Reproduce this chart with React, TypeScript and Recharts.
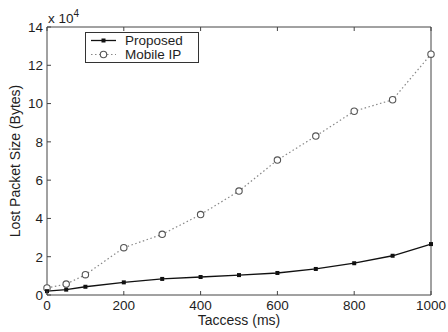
import { LineChart, Line, XAxis, YAxis, Legend, Label } from "recharts";

const taccess = [0, 50, 100, 200, 300, 400, 500, 600, 700, 800, 900, 1000];
const proposed = [2000, 2800, 4300, 6600, 8400, 9400, 10400, 11500, 13600, 16600, 20500, 26600];
const mobileIp = [3700, 5700, 10600, 24700, 31700, 42000, 54300, 70500, 83000, 96000, 102000, 125800];
const xTicks = [0, 200, 400, 600, 800, 1000];
const yTicks = [0, 20000, 40000, 60000, 80000, 100000, 120000, 140000];

const data = taccess.map((t, i) => ({ t, proposed: proposed[i], mobile: mobileIp[i] }));

const FONT = "'Liberation Sans', Arial, sans-serif";
const TEXT = "#1e1e1e";
const AXIS = "#444";
const TICK_LEN = 4;

function BottomTick({ x, y, payload }: any) {
  return (
    <g>
      <line x1={x} x2={x} y1={y - 5} y2={y - 5 - TICK_LEN} stroke={AXIS} />
      <text x={x} y={y} dy="0.72em" textAnchor="middle" fontSize={13.5} fill={TEXT} fontFamily={FONT}>
        {payload.value}
      </text>
    </g>
  );
}

function TopTick({ x, y }: any) {
  return <line x1={x} x2={x} y1={y} y2={y + TICK_LEN} stroke={AXIS} />;
}

function LeftTick({ x, y, payload }: any) {
  return (
    <g>
      <line x1={x + 4} x2={x + 4 + TICK_LEN} y1={y} y2={y} stroke={AXIS} />
      <text x={x} y={y} dy="0.36em" textAnchor="end" fontSize={13.5} fill={TEXT} fontFamily={FONT}>
        {payload.value / 10000}
      </text>
    </g>
  );
}

function RightTick({ x, y }: any) {
  return <line x1={x} x2={x - TICK_LEN} y1={y} y2={y} stroke={AXIS} />;
}

function CircleDot({ cx, cy }: any) {
  return <circle cx={cx} cy={cy} r={3.2} fill="#fff" stroke="#555" strokeWidth={1.1} />;
}

function SquareDot({ cx, cy }: any) {
  return <rect x={cx - 2} y={cy - 2} width={4} height={4} fill="#111" />;
}

function LegendBox() {
  return (
    <svg width={114} height={31} style={{ display: "block" }}>
      <rect x={0.5} y={0.5} width={113} height={30} fill="#fff" stroke="#333" />
      <line x1={6} x2={31} y1={8.5} y2={8.5} stroke="#111" strokeWidth={1.3} />
      <rect x={16.5} y={6.5} width={4} height={4} fill="#111" />
      <text x={40} y={8.5} dy="0.36em" fontSize={13.5} fill={TEXT} fontFamily={FONT}>Proposed</text>
      <line x1={6} x2={31} y1={22.5} y2={22.5} stroke="#888" strokeWidth={1.2} strokeDasharray="1.5 2.5" />
      <circle cx={18.5} cy={22.5} r={3.2} fill="#fff" stroke="#555" strokeWidth={1.1} />
      <text x={40} y={22.5} dy="0.36em" fontSize={13.5} fill={TEXT} fontFamily={FONT}>Mobile IP</text>
    </svg>
  );
}

export default function App() {
  return (
    <div style={{ position: "absolute", left: 0, top: 0, width: 448, height: 332, background: "#fff" }}>
      <LineChart width={448} height={332} data={data} margin={{ top: 26, right: 16, bottom: 17, left: 17 }}>
        <XAxis
          dataKey="t"
          type="number"
          domain={[0, 1000]}
          ticks={xTicks}
          height={20}
          stroke={AXIS}
          tickLine={false}
          tickSize={0}
          tickMargin={5}
          tick={<BottomTick />}
          interval={0}
        >
          <Label
            value="Taccess (ms)"
            position="insideBottom"
            offset={-10}
            style={{ fontSize: 14, fill: TEXT, fontFamily: FONT }}
          />
        </XAxis>
        <XAxis
          xAxisId="top"
          orientation="top"
          dataKey="t"
          type="number"
          domain={[0, 1000]}
          ticks={xTicks}
          height={1}
          stroke={AXIS}
          tickLine={false}
          tickSize={0}
          tickMargin={0}
          tick={<TopTick />}
          interval={0}
        />
        <YAxis
          type="number"
          domain={[0, 140000]}
          ticks={yTicks}
          width={30}
          stroke={AXIS}
          tickLine={false}
          tickSize={0}
          tickMargin={4}
          tick={<LeftTick />}
          interval={0}
        >
          <Label
            content={({ viewBox }: any) => (
              <text
                x={15}
                y={viewBox.y + viewBox.height / 2}
                transform={`rotate(-90, 15, ${viewBox.y + viewBox.height / 2})`}
                textAnchor="middle"
                dy="0.36em"
                fontSize={14}
                fill={TEXT}
                fontFamily={FONT}
              >
                Lost Packet Size (Bytes)
              </text>
            )}
          />
          <Label
            content={({ viewBox }: any) => (
              <text x={viewBox.x + viewBox.width + 1} y={viewBox.y - 4} fontSize={13.5} fill={TEXT} fontFamily={FONT}>
                x 10
                <tspan fontSize={10} dy={-6}>4</tspan>
              </text>
            )}
          />
        </YAxis>
        <YAxis
          yAxisId="right"
          orientation="right"
          type="number"
          domain={[0, 140000]}
          ticks={yTicks}
          width={1}
          stroke={AXIS}
          tickLine={false}
          tickSize={0}
          tickMargin={0}
          tick={<RightTick />}
          interval={0}
        />
        <Legend
          layout="vertical"
          align="center"
          verticalAlign="middle"
          content={() => <LegendBox />}
          wrapperStyle={{ left: 85, top: 32, width: 114, height: 31 }}
        />
        <Line
          type="linear"
          dataKey="mobile"
          stroke="#888"
          strokeWidth={1.2}
          strokeDasharray="1.5 2.5"
          dot={<CircleDot />}
          isAnimationActive={false}
        />
        <Line
          type="linear"
          dataKey="proposed"
          stroke="#111"
          strokeWidth={1.3}
          dot={<SquareDot />}
          isAnimationActive={false}
        />
      </LineChart>
    </div>
  );
}
